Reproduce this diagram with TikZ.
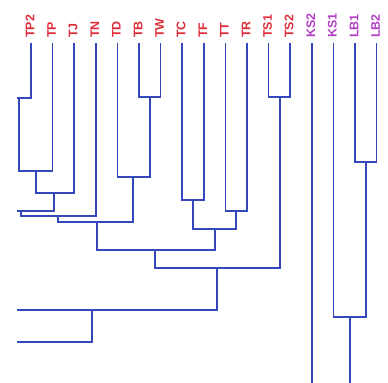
\documentclass[tikz,border=0pt]{standalone}
\usepackage{fontspec}
\setmainfont{Liberation Sans}
\definecolor{tred}{RGB}{222,45,58}
\definecolor{tpurple}{RGB}{178,62,196}
\definecolor{tblue}{RGB}{52,72,188}
\tikzset{
  leaf/.style={rotate=90,anchor=west,inner sep=0pt,font=\fontsize{12.5}{14}\selectfont\bfseries},
  branch/.style={draw=tblue,line width=1.6bp}
}
\begin{document}
\begin{tikzpicture}[x=1bp,y=-1bp]
      \useasboundingbox (0,0) rectangle (388,383);
      % leaves
      \foreach \n/\x/\c in {TP2/31/tred,TP/52.6/tred,TJ/74.2/tred,TN/95.8/tred,TD/117.4/tred,
                            TB/139/tred,TW/160.6/tred,TC/182.2/tred,TF/203.8/tred,TT/225.4/tred,
                            TR/247/tred,TS1/268.6/tred,TS2/290.2/tred,KS2/311.8/tpurple,
                            KS1/333.4/tpurple,LB1/355/tpurple,LB2/376.6/tpurple}{
        \coordinate (\n) at (\x,43);
        \node [leaf,text=\c] (l\n) at (\x-1,38) {\n};
      }
      % junctions
      \coordinate (a1) at (17,98);
      \coordinate (b1) at (19,98);
      \coordinate (jPP) at (36,171);
      \coordinate (jPJ) at (54,193);
      \coordinate (e1) at (17,211);
      \coordinate (c1) at (21,211);
      \coordinate (jN) at (58,216);
      \coordinate (jLeft) at (97,222);
      \coordinate (jBW) at (150,97);
      \coordinate (jDBW) at (133,177);
      \coordinate (jCF) at (193,200);
      \coordinate (jTR) at (236,211);
      \coordinate (jCFTR) at (215,229);
      \coordinate (jT) at (155,250);
      \coordinate (jS) at (280,97);
      \coordinate (jTS) at (217,268);
      \coordinate (e2) at (17,310);
      \coordinate (c2) at (92,310);
      \coordinate (e3) at (17,342);
      \coordinate (jLB) at (366,162);
      \coordinate (jK) at (350,317);
      \coordinate (b2) at (311.8,383);
      \coordinate (b3) at (350,383);

      \draw[branch] (TP2) |- (a1);
      \draw[branch] (b1) |- (jPP) -| (TP);
      \draw[branch] (jPP) |- (jPJ) -| (TJ);
      \draw[branch] (jPJ) |- (e1);
      \draw[branch] (c1) |- (jN) -| (TN);
      \draw[branch] (TB) |- (jBW) -| (TW);
      \draw[branch] (jBW) |- (jDBW) -| (TD);
      \draw[branch] (jN) |- (jLeft) -| (jDBW);
      \draw[branch] (TC) |- (jCF) -| (TF);
      \draw[branch] (TT) |- (jTR) -| (TR);
      \draw[branch] (jCF) |- (jCFTR) -| (jTR);
      \draw[branch] (jLeft) |- (jT) -| (jCFTR);
      \draw[branch] (TS1) |- (jS) -| (TS2);
      \draw[branch] (jT) |- (jTS) -| (jS);
      \draw[branch] (jTS) |- (e2);
      \draw[branch] (c2) |- (e3);
      \draw[branch] (KS2) -- (b2);
      \draw[branch] (LB1) |- (jLB) -| (LB2);
      \draw[branch] (KS1) |- (jK) -| (jLB);
      \draw[branch] (jK) -- (b3);
    \end{tikzpicture}
\end{document}
